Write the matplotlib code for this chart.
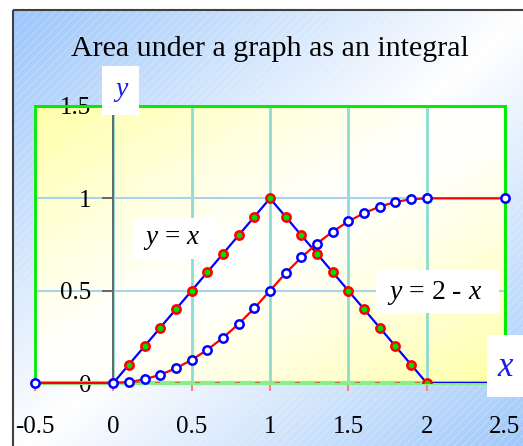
import numpy as np
import matplotlib
matplotlib.use("Agg")
import matplotlib.pyplot as plt
from matplotlib.patches import Rectangle

plt.rcParams['font.family'] = ['Liberation Serif', 'DejaVu Serif']
plt.rcParams['mathtext.fontset'] = 'custom'
plt.rcParams['mathtext.it'] = 'Liberation Serif:italic'
plt.rcParams['mathtext.rm'] = 'Liberation Serif'
plt.rcParams['hatch.linewidth'] = 0.5

# data: f(x) triangle and its running integral
x_vals = [-0.5, 0.0, 0.1, 0.2, 0.3, 0.4, 0.5, 0.6, 0.7, 0.8, 0.9, 1.0,
          1.1, 1.2, 1.3, 1.4, 1.5, 1.6, 1.7, 1.8, 1.9, 2.0, 2.5]
f_vals = [0, 0, 0.1, 0.2, 0.3, 0.4, 0.5, 0.6, 0.7, 0.8, 0.9, 1.0,
          0.9, 0.8, 0.7, 0.6, 0.5, 0.4, 0.3, 0.2, 0.1, 0.0, 0]
area_vals = [0, 0, 0.005, 0.02, 0.045, 0.08, 0.125, 0.18, 0.245, 0.32, 0.405, 0.5,
             0.595, 0.68, 0.755, 0.82, 0.875, 0.92, 0.955, 0.98, 0.995, 1.0, 1.0]
x_ticks = [-0.5, 0, 0.5, 1, 1.5, 2, 2.5]
x_labels = ['-0.5', '0', '0.5', '1', '1.5', '2', '2.5']
y_ticks = [0, 0.5, 1, 1.5]
y_labels = ['0', '0.5', '1', '1.5']

W, H = 523, 446
fig = plt.figure(figsize=(W / 100, H / 100), dpi=100)
fig.patch.set_facecolor('white')


def px(x, y):
    return x / W, 1 - y / H


def diag_gradient(c_edge, n=300, p=1.2):
    u = np.linspace(0, 1, n)
    uu, vv = np.meshgrid(u, u)
    t = (uu + vv) / 2
    w = np.clip(np.abs(t - 0.5) * 2, 0, 1) ** p
    c_edge = np.array(matplotlib.colors.to_rgb(c_edge))
    img = (1 - w[..., None]) * np.ones(3) + w[..., None] * c_edge
    return img


# chart background
bg = fig.add_axes([0, 0, 1, 1], zorder=-1)
bg.axis('off')
bg.imshow(diag_gradient('#9cc6fa', p=1.0), extent=(13, W + 10, H + 10, 10), aspect='auto',
          interpolation='bilinear')
bg.add_patch(Rectangle((13, 10), W, H, facecolor='none', edgecolor=(1, 1, 1, 0.35),
                       hatch='////', lw=0))
bg.add_patch(Rectangle((13, 10), W, H, facecolor='none', edgecolor='#404040', lw=1.5))
bg.set_xlim(0, W)
bg.set_ylim(H, 0)

# plot area
x0, y0 = px(35, 383)
x1, y1 = px(505, 106)
ax = fig.add_axes([x0, y0, x1 - x0, y1 - y0])
ax.imshow(diag_gradient('#ffffa4'), extent=(-0.5, 2.5, 0, 1.5), aspect='auto',
          interpolation='bilinear', zorder=0)
ax.add_patch(Rectangle((0, 0), 1, 1, transform=ax.transAxes, facecolor='none',
                       edgecolor=(1, 1, 1, 0.35), hatch='////', lw=0, zorder=0.5))
ax.set_xlim(-0.5, 2.5)
ax.set_ylim(0, 1.5)

ax.set_xticks(x_ticks, x_labels)
ax.set_yticks(y_ticks, y_labels)
ax.xaxis.grid(True, color='#8cdcd2', lw=2)
ax.yaxis.grid(True, color='#a8d2ee', lw=1.5)

for s in ['top', 'right']:
    ax.spines[s].set_color('#00ee00')
    ax.spines[s].set_linewidth(2)
ax.spines['bottom'].set_color('#88f088')
ax.spines['bottom'].set_linewidth(3)
ax.spines['left'].set_position(('data', 0))
ax.spines['left'].set_color('#606060')
ax.spines['left'].set_linewidth(1.3)
ax.add_patch(Rectangle((0, 0), 1, 1, transform=ax.transAxes, facecolor='none',
                       edgecolor='#00ee00', lw=2, clip_on=False, zorder=2.4))

ax.tick_params(axis='x', direction='out', length=6, width=1.5, color='#ff8080',
               labelsize=18, pad=18)
ax.tick_params(axis='y', direction='out', length=8, width=1.3, color='#606060',
               labelsize=18, pad=8)

ax.axhline(0, color='#d04020', lw=1.5, ls=(0, (2.4, 7.2)), alpha=0.7, zorder=2.6)

ax.plot(x_vals, f_vals, color='#0000ff', lw=1.6, marker='o', ms=6,
        mfc='#00dd00', mec='#ff0000', mew=1.8, markevery=list(range(1, 22)),
        zorder=3)
ax.plot(x_vals, area_vals, color='#ff0000', lw=1.6, marker='o', ms=6,
        mfc='white', mec='#0000ff', mew=1.8, clip_on=False, zorder=3.1)

# title
tx, ty = px(270, 56)
fig.text(tx, ty, 'Area under a graph as an integral', ha='center', va='baseline',
         fontsize=21.6)


def label_box(xa, ya, xb, yb, text, tcx, tcy, size, color='black'):
    bx, by = px(xa, yb)
    bw = (xb - xa) / W
    bh = (yb - ya) / H
    fig.add_artist(Rectangle((bx, by), bw, bh, transform=fig.transFigure,
                             facecolor='white', edgecolor='none', zorder=5))
    cx, cy = px(tcx, tcy)
    fig.text(cx, cy, text, ha='center', va='center', fontsize=size, color=color,
             zorder=6)


label_box(102, 66, 139, 115, '$y$', 121, 91, 20, '#1a1aee')
label_box(487, 335, 530, 397, '$x$', 506, 367, 25, '#1a1aee')
label_box(133, 218, 217, 259, '$y$ = $x$', 172, 240, 19.5)
label_box(376, 270, 499, 313, '$y$ = 2 - $x$', 435, 293, 20)

fig.savefig('out.png', dpi=100)
